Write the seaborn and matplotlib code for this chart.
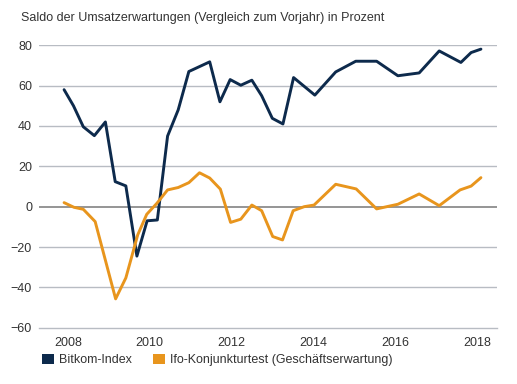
import numpy as np
import pandas as pd
import matplotlib
matplotlib.use("Agg")
import matplotlib.pyplot as plt
from matplotlib.patches import Patch
import seaborn as sns

# ---- data ----
bitkom_x = [2008.41, 2008.64, 2008.88, 2009.15, 2009.42, 2009.66, 2009.92, 2010.19,
            2010.44, 2010.69, 2010.94, 2011.20, 2011.46, 2011.97, 2012.22, 2012.47,
            2012.73, 2013.00, 2013.24, 2013.50, 2013.76, 2014.02, 2014.54, 2015.05,
            2015.54, 2016.05, 2016.57, 2017.09, 2017.58, 2018.11, 2018.36, 2018.60]
bitkom_y = [58, 50, 39.6, 35.2, 42, 12.4, 10.3, -24.5,
            -7, -6.6, 35, 48, 67, 71.8, 52, 63,
            60.2, 62.7, 55, 43.8, 41, 64, 55.3, 66.8,
            72.1, 72.1, 64.9, 66.3, 77.2, 71.5, 76.4, 78.1]

ifo_x = [2008.41, 2008.65, 2008.88, 2009.17, 2009.67, 2009.92, 2010.21, 2010.43,
         2010.68, 2010.94, 2011.20, 2011.46, 2011.72, 2011.97, 2012.23, 2012.48,
         2012.73, 2013.00, 2013.24, 2013.51, 2013.75, 2014.01, 2014.28, 2014.52,
         2015.05, 2015.55, 2016.05, 2016.57, 2017.09, 2017.58, 2018.09, 2018.36, 2018.60]
ifo_y = [2.0, -0.3, -1.3, -7.4, -45.7, -35.3, -14, -3.8,
         1.7, 8.3, 9.5, 11.9, 16.8, 14.2, 8.7, -7.8,
         -6.2, 0.8, -2, -14.8, -16.5, -2, 0, 0.8,
         11.1, 8.8, -1.1, 1.2, 6.3, 0.5, 8.3, 10.2, 14.4]

series_names = ["Bitkom-Index", "Ifo-Konjunkturtest (Geschäftserwartung)"]
title = "Saldo der Umsatzerwartungen (Vergleich zum Vorjahr) in Prozent"
y_ticks = [80, 60, 40, 20, 0, -20, -40, -60]
x_label_years = [2008, 2010, 2012, 2014, 2016, 2018]

colors = {"Bitkom-Index": "#0d2a4c",
          "Ifo-Konjunkturtest (Geschäftserwartung)": "#e8951d"}

df = pd.concat([
    pd.DataFrame({"year": bitkom_x, "value": bitkom_y, "series": series_names[0]}),
    pd.DataFrame({"year": ifo_x, "value": ifo_y, "series": series_names[1]}),
], ignore_index=True)

sns.set_theme(style="white")
plt.rcParams["font.family"] = ["Liberation Sans", "DejaVu Sans"]

FS = 9.0
fig = plt.figure(figsize=(5.17, 3.84), dpi=100)
ax = fig.add_axes([39/517, 1 - 327.7/384, (497.3-39)/517, (327.7-45.3)/384])

# gridlines
grid_col = "#b8bcc3"
for v in y_ticks:
    if v == 0:
        ax.axhline(v, color="#8c8c8c", lw=1.3, zorder=1)
    elif v == -60:
        continue
    else:
        ax.axhline(v, color=grid_col, lw=1.0, zorder=1)

sns.lineplot(data=df, x="year", y="value", hue="series", palette=colors,
             estimator=None, sort=False, lw=2.1, ax=ax, legend=False, zorder=3)

ax.set_xlim(2007.797, 2019.0)
ax.set_ylim(-60, 80)
ax.set_xlabel("")
ax.set_ylabel("")

for s in ["top", "right", "left"]:
    ax.spines[s].set_visible(False)
ax.spines["bottom"].set_color(grid_col)
ax.spines["bottom"].set_linewidth(1.0)

ax.set_yticks(y_ticks)
ax.set_yticklabels([str(v).replace("-", "\u2212") if v < 0 else str(v) for v in y_ticks])
ax.tick_params(axis="y", length=0, pad=5, labelsize=FS, labelcolor="#333333")

ax.set_xticks(list(range(2008, 2020)))
ax.set_xticklabels([])
ax.tick_params(axis="x", which="major", length=4, width=1, color=grid_col, direction="out")
ax.set_xticks([y + 0.5 for y in x_label_years], minor=True)
ax.set_xticklabels([str(y) for y in x_label_years], minor=True)
ax.tick_params(axis="x", which="minor", length=0, pad=7, labelsize=FS, labelcolor="#333333")

fig.text(21/517, 1 - 18/384, title, fontsize=FS, color="#333333", va="center", ha="left")

handles = [Patch(facecolor=colors[n], edgecolor="none") for n in series_names]
fig.legend(handles, series_names, loc="center left", bbox_to_anchor=(31/517, 1 - 360/384),
           ncol=2, frameon=False, fontsize=FS, handlelength=0.9, handleheight=0.9,
           handletextpad=0.45, columnspacing=1.7, labelcolor="#333333")

fig.savefig("out.png", dpi=100)
